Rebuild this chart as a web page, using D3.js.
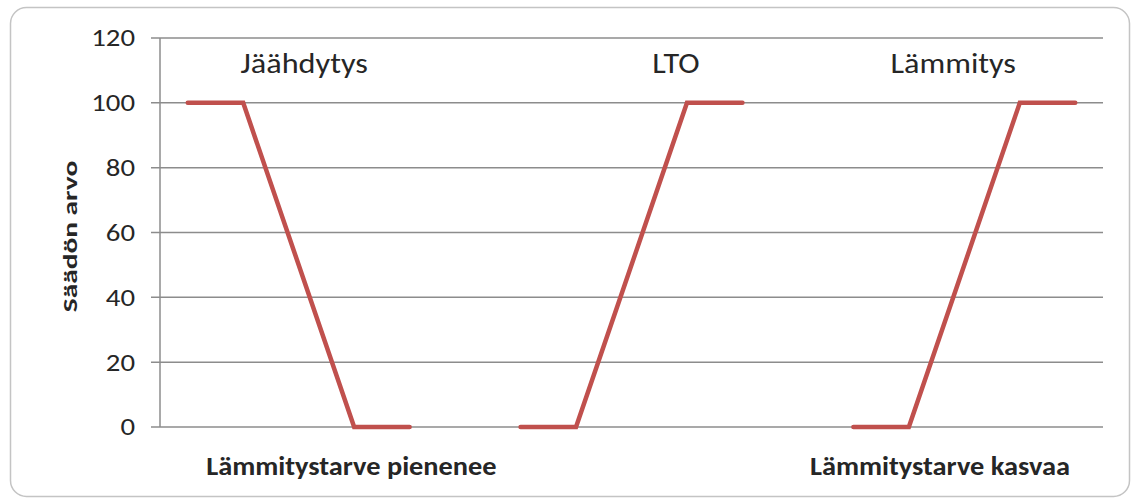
<!DOCTYPE html>
<html>
<head>
<meta charset="utf-8">
<script src="https://cdn.jsdelivr.net/npm/d3@7"></script>
<style>
  body { margin: 0; background: #fff; }
  text { font-family: "Carlito", "Lato", "Open Sans", sans-serif; fill: #262626; }
</style>
</head>
<body>
<script>
// Chart data
var categories = d3.range(1, 18);          // 17 points along the x axis
var yTicks = [0, 20, 40, 60, 80, 100, 120];
var jaahdytys = [100, 100, null, 0, 0, null, null, null, null, null, null, null, null, null, null, null, null];
var lto       = [null, null, null, null, null, null, 0, 0, null, 100, 100, null, null, null, null, null, null];
var lammitys  = [null, null, null, null, null, null, null, null, null, null, null, null, 0, 0, null, 100, 100];
var seriesNames = ["Jäähdytys", "LTO", "Lämmitys"];
var bottomLabels = ["Lämmitystarve pienenee", "Lämmitystarve kasvaa"];
var yTitle = "Säädön arvo";

var svg_width = 1134, svg_height = 502;
var svg = d3.select("body").append("svg")
    .attr("width", svg_width)
    .attr("height", svg_height);

// Outer frame
svg.append("rect")
    .attr("x", 10.5).attr("y", 7.5)
    .attr("width", 1119).attr("height", 489)
    .attr("rx", 16)
    .attr("fill", "#fff")
    .attr("stroke", "#c4c4c4")
    .attr("stroke-width", 1.5);

var margin = {left: 160, right: 31, top: 38, bottom: 75};

var x = d3.scaleBand()
    .domain(categories)
    .range([margin.left, svg_width - margin.right]);

var y = d3.scaleLinear()
    .domain([0, 120])
    .range([svg_height - margin.bottom, margin.top]);

// position along the category axis (1-based, fractional allowed)
function catX(c) {
    return x(1) + (c - 0.5) * x.bandwidth();
}

// Gridlines
svg.append("g")
    .selectAll("line")
    .data(yTicks)
    .enter().append("line")
    .attr("x1", margin.left - 9)
    .attr("x2", svg_width - margin.right)
    .attr("y1", function(d) { return y(d); })
    .attr("y2", function(d) { return y(d); })
    .attr("stroke", "#8c8c8c")
    .attr("stroke-width", 1.5);

// Y axis line
svg.append("line")
    .attr("x1", margin.left).attr("x2", margin.left)
    .attr("y1", y(120)).attr("y2", y(0))
    .attr("stroke", "#8c8c8c")
    .attr("stroke-width", 1.5);

// Tick labels (the source picture is stretched sideways, hence the scale)
svg.append("g")
    .selectAll("text")
    .data(yTicks)
    .enter().append("text")
    .attr("transform", function(d) { return "translate(135," + y(d) + ") scale(1.2,1)"; })
    .attr("dy", "0.35em")
    .attr("text-anchor", "end")
    .style("font-size", "24px")
    .text(function(d) { return d; });

// Y axis title
svg.append("text")
    .attr("transform", "translate(77,236.5) rotate(-90) scale(1.4,1)")
    .attr("text-anchor", "middle")
    .style("font-size", "21px")
    .style("font-weight", "bold")
    .text(yTitle);

// Lines
var line = d3.line()
    .x(function(d) { return x(d.c) + x.bandwidth() / 2; })
    .y(function(d) { return y(d.v); });

[jaahdytys, lto, lammitys].forEach(function(values) {
    var pts = values.map(function(v, i) { return {c: categories[i], v: v}; })
        .filter(function(d) { return d.v !== null; });
    svg.append("path")
        .datum(pts)
        .attr("d", line)
        .attr("fill", "none")
        .attr("stroke", "#c0504d")
        .attr("stroke-width", 4.5)
        .attr("stroke-linejoin", "miter")
        .attr("stroke-linecap", "round");
});

// Series labels
var labelPos = [3.1, 9.8, 14.8];
svg.append("g")
    .selectAll("text")
    .data(seriesNames)
    .enter().append("text")
    .attr("transform", function(d, i) { return "translate(" + catX(labelPos[i]) + ",73) scale(1.15,1)"; })
    .attr("text-anchor", "middle")
    .style("font-size", "28px")
    .text(function(d) { return d; });

// Bottom labels
var bottomPos = [3.95, 14.56];
svg.append("g")
    .selectAll("text")
    .data(bottomLabels)
    .enter().append("text")
    .attr("transform", function(d, i) { return "translate(" + catX(bottomPos[i]) + ",475) scale(1.05,1)"; })
    .attr("text-anchor", "middle")
    .style("font-size", "27px")
    .style("font-weight", "bold")
    .text(function(d) { return d; });
</script>
</body>
</html>
